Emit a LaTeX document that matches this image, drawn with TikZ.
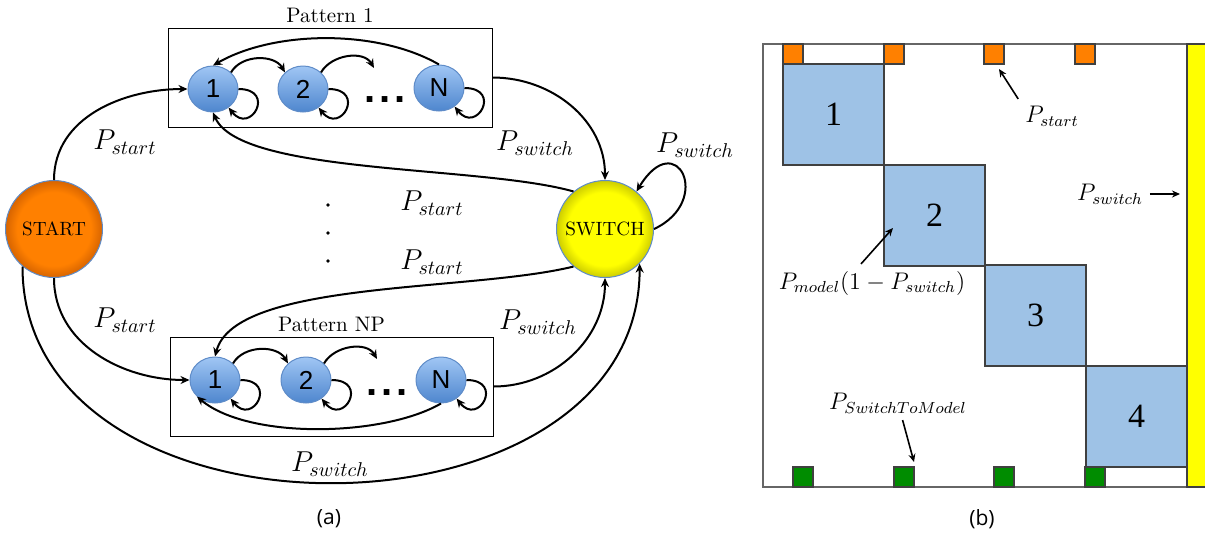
\documentclass[tikz,border=0pt]{standalone}
\usepackage{fontspec}
\usepackage{amsmath}
\usetikzlibrary{shapes.geometric, arrows.meta, positioning}
\newfontfamily\statefont{Liberation Sans}
\newfontfamily\blockfont{Liberation Serif}
\newfontfamily\capfont{Open Sans}

\definecolor{statetop}{RGB}{160,198,244}
\definecolor{statebot}{RGB}{78,134,206}
\definecolor{stateborder}{RGB}{95,140,200}
\definecolor{startin}{RGB}{255,128,0}
\definecolor{startout}{RGB}{215,100,0}
\definecolor{switchin}{RGB}{255,255,0}
\definecolor{switchout}{RGB}{205,205,0}
\definecolor{cellblue}{RGB}{158,194,230}
\definecolor{cellorange}{RGB}{255,128,0}
\definecolor{cellgreen}{RGB}{0,140,0}
\definecolor{baryellow}{RGB}{255,255,0}

\pgfdeclareradialshading{startglow}{\pgfpoint{0bp}{0bp}}{color(0bp)=(startin); color(19bp)=(startin); color(25bp)=(startout); color(50bp)=(startout)}
\pgfdeclareradialshading{switchglow}{\pgfpoint{0bp}{0bp}}{color(0bp)=(switchin); color(19bp)=(switchin); color(25bp)=(switchout); color(50bp)=(switchout)}

\tikzset{
    statenode/.style={ellipse, draw=stateborder, line width=0.5pt, top color=statetop, bottom color=statebot, minimum width=25pt, minimum height=23pt, inner sep=0pt, font=\statefont\fontsize{13}{14}\selectfont},
    startnode/.style={circle, draw=stateborder, line width=0.5pt, shading=startglow, minimum size=48.5pt, inner sep=0pt, font=\fontsize{9.6}{11}\selectfont},
    switchnode/.style={circle, draw=stateborder, line width=0.5pt, shading=switchglow, minimum size=48.5pt, inner sep=0pt, font=\fontsize{9.6}{11}\selectfont},
    patbox/.style={draw, line width=0.5pt, minimum height=49.5pt, inner sep=0pt},
    titlelbl/.style={font=\fontsize{10.5}{12}\selectfont, inner sep=2pt},
    dotsrow/.style={font=\statefont\bfseries\fontsize{20}{20}\selectfont, inner sep=0pt},
    trans/.style={->, line width=1pt},
    plabel/.style={font=\fontsize{14}{16}\selectfont},
    rlabel/.style={font=\fontsize{12}{14}\selectfont},
    cell/.style={draw=black!75, line width=0.6pt},
    pointer/.style={->, line width=0.8pt, >={Stealth[length=4pt,width=3.5pt]}},
}
\newcommand{\selfloop}[1]{\draw[trans] (#1.east) .. controls +(38,0) and +(22,-28) .. (#1.-50);}
\newcommand{\threedots}{.\hspace{2pt}.\hspace{2pt}.}

\begin{document}
\begin{tikzpicture}[x=0.5pt, y=0.5pt, >={Stealth[length=4.5pt,width=4pt]}]
\useasboundingbox (0,0) rectangle (1205,-538);

% (a) pattern boxes
\node[patbox, minimum width=162pt] (p1box) at (330,-77.5) {};
\node[titlelbl, above=0pt of p1box] (p1title) {Pattern 1};
\node[patbox, minimum width=161.5pt] (pNbox) at (331.5,-386.5) {};
\node[titlelbl, above=0pt of pNbox] (pNtitle) {Pattern NP};

% pattern 1 states
\node[statenode] (a1) at (213,-89) {1};
\node[statenode] (a2) at (303,-89) {2};
\node[statenode] (aN) at (439,-88) {N};
\node[dotsrow] (p1dots) at (385,-100) {\threedots};
\coordinate (a2end) at (374,-68);

\draw[trans] (a1.north east) to[out=60,in=120] (a2.north west);
\draw[trans] (a2.north east) to[out=60,in=120] (a2end);
\draw[trans] (aN.north) to[out=150,in=30,looseness=0.8] (a1.north);
\selfloop{a1}
\selfloop{a2}
\selfloop{aN}

% pattern NP states
\node[statenode] (b1) at (215,-380) {1};
\node[statenode] (b2) at (306,-380) {2};
\node[statenode] (bN) at (441,-380) {N};
\node[dotsrow] (pNdots) at (387,-393) {\threedots};
\coordinate (b2end) at (377,-359);

\draw[trans] (b1.north east) to[out=60,in=120] (b2.north west);
\draw[trans] (b2.north east) to[out=60,in=120] (b2end);
\draw[trans] (bN.south) to[out=-150,in=-40,looseness=0.7] (b1.south west);
\selfloop{b1}
\selfloop{b2}
\selfloop{bN}

% start and switch
\node[startnode] (start) at (54,-229) {START};
\node[switchnode] (switch) at (605,-229) {SWITCH};

\draw[trans] (start.north) to[out=90,in=180] (a1.west);
\draw[trans] (start.south) to[out=-90,in=180] (b1.west);
\draw[trans] (start.-130) to[out=-90,in=-90,looseness=1.2] (switch.-45);
\draw[trans] (p1box.east) to[out=0,in=90] (switch.north);
\draw[trans] (pNbox.east) to[out=0,in=-90] (switch.south);
\draw[trans] (switch.130) .. controls (480,-165) and (240,-175) .. (a1.south);
\draw[trans] (switch.-130) .. controls (470,-292) and (235,-280) .. (b1.north);
\draw[trans] (switch.east) .. controls +(60,28) and +(40,66) .. (switch.50);

\node[plabel] (l1) at (125,-142) {$P_{start}$};
\node[plabel] (l2) at (125,-320) {$P_{start}$};
\node[plabel] (l3) at (535,-143) {$P_{switch}$};
\node[plabel] (l4) at (695,-145) {$P_{switch}$};
\node[plabel] (l5) at (432,-203) {$P_{start}$};
\node[plabel] (l6) at (432,-262) {$P_{start}$};
\node[plabel] (l7) at (538,-322) {$P_{switch}$};
\node[plabel] (l8) at (330,-464) {$P_{switch}$};

% vertical dots
\foreach \vy in {205,233,261} {
  \fill (328,-\vy) circle (1.8);
}

% (b) matrix
\draw[black!60, line width=0.6pt] (763,-44) rectangle (1205,-487);
\foreach \k/\bx/\by in {1/783/64, 2/884/165, 3/985/265, 4/1086/366} {
  \draw[cell, fill=cellblue] (\bx,-\by) rectangle ++(101,-101);
  \node[font=\blockfont\fontsize{17}{17}\selectfont] (blk\k) at (\bx+50.5,-\by-50.5) {\k};
}
\foreach \sx in {783,884,984,1075} {
  \draw[cell, fill=cellorange] (\sx,-44) rectangle ++(20,-20);
}
\foreach \gx in {793,894,994,1085} {
  \draw[cell, fill=cellgreen] (\gx,-467) rectangle ++(20,-20);
}
\draw[cell, fill=baryellow] (1187,-44) rectangle (1206,-487);

\node[rlabel] (lstart) at (1052,-116) {$P_{start}$};
\node[rlabel] (lswitch) at (1110,-194) {$P_{switch}$};
\node[rlabel] (lmodel) at (872,-283) {$P_{model}(1-P_{switch})$};
\node[rlabel] (lstm) at (898,-403) {$P_{SwitchToModel}$};
\coordinate (tstart) at (999,-69);
\coordinate (tswitch) at (1180,-194);
\coordinate (tmodel) at (893,-228);
\coordinate (tstm) at (914,-462);

\draw[pointer] (lstart.north west) -- (tstart);
\draw[pointer] (lswitch.east) -- (tswitch);
\draw[pointer] (lmodel.120) -- (tmodel);
\draw[pointer] (lstm.-75) -- (tstm);

% captions
\node[font=\capfont\fontsize{10.5}{12}\selectfont] (capa) at (329,-519) {(a)};
\node[font=\capfont\fontsize{10.5}{12}\selectfont] (capb) at (982,-519) {(b)};

\end{tikzpicture}
\end{document}
